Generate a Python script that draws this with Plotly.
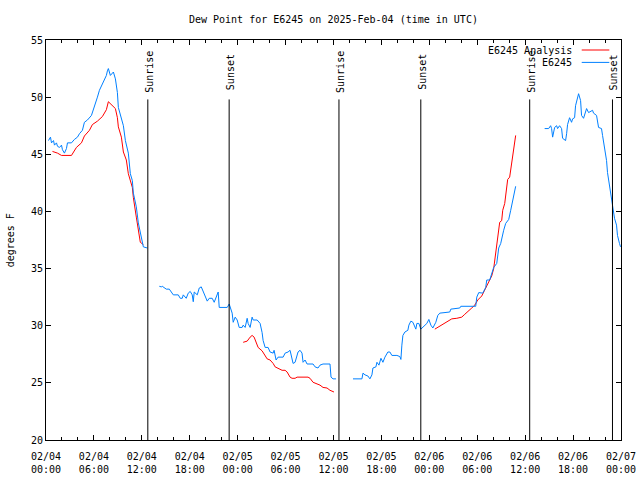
import pandas as pd
import plotly.graph_objects as go

BASE = pd.Timestamp("2025-02-04 00:00")

# ---- Observations (E6245), hours since 2025-02-04 00:00 UTC, segments separated by data gaps
obs_h1 = [0.31, 0.56, 0.69, 0.94, 1.06, 1.31, 1.44, 1.69, 1.94, 2.06, 2.31, 2.56, 2.69, 3.19, 3.56, 3.94,
          4.19, 4.56, 4.81, 5.19, 5.69, 6.06, 6.44, 6.69, 7.06, 7.56, 7.69, 7.81, 8.06, 8.44, 8.69, 8.94,
          9.06, 9.44, 9.69, 9.94, 10.31, 10.56, 10.81, 10.94, 11.31, 11.56, 11.81, 12.06, 12.19, 12.69]
obs_v1 = [46.2, 46.5, 46.0, 46.2, 45.8, 46.0, 45.7, 45.6, 45.8, 45.4, 45.1, 45.5, 46.0, 46.0, 46.3, 46.5,
          46.8, 47.1, 47.8, 48.0, 48.4, 49.1, 50.0, 50.6, 51.2, 51.9, 52.3, 52.5, 51.9, 52.2, 51.6, 50.4,
          49.1, 48.0, 47.5, 46.2, 45.1, 43.3, 42.7, 41.6, 40.4, 39.0, 38.1, 37.5, 36.9, 36.8]

obs_h2 = [14.19, 14.44, 14.56, 14.81, 15.06, 15.44, 15.81, 15.94, 16.56, 16.81, 17.06, 17.19, 17.56, 17.81,
          18.06, 18.31, 18.44, 18.56, 18.94, 19.19, 19.44, 19.69, 19.94, 20.19, 20.44, 20.81, 21.06, 21.31,
          21.56, 21.69, 22.06, 22.69, 22.94, 23.06, 23.31, 23.44, 23.69, 23.94, 24.06, 24.19, 24.56, 24.69,
          24.94, 25.19, 25.31, 25.56, 25.81, 25.94, 26.44, 26.81, 27.06, 27.19, 27.44, 27.81, 28.06, 28.44,
          28.56, 28.81, 29.06, 29.69, 29.94, 30.31, 30.56, 30.81, 30.94, 31.19, 31.44, 31.56, 31.81, 32.06,
          32.19, 32.44, 32.69, 33.44, 33.69, 34.06, 34.31, 34.69, 35.56, 35.69, 35.94, 36.31]
obs_v2 = [33.45, 33.4, 33.45, 33.3, 33.2, 33.2, 32.85, 32.7, 32.7, 32.4, 32.4, 32.7, 32.4, 32.85,
          33.0, 32.7, 32.1, 32.95, 32.7, 33.3, 33.4, 32.95, 32.5, 32.15, 32.4, 32.4, 32.05, 32.5,
          32.95, 31.6, 31.6, 31.6, 31.9, 31.6, 31.1, 30.3, 30.75, 30.5, 30.2, 29.85, 29.85, 30.05,
          29.85, 30.65, 30.2, 29.85, 30.75, 30.5, 30.5, 30.2, 29.4, 28.7, 28.1, 28.1, 27.7, 27.6,
          27.85, 27.0, 27.25, 27.25, 27.6, 27.7, 27.85, 27.0, 26.7, 26.8, 27.4, 27.7, 27.85, 27.6,
          26.8, 27.0, 26.65, 26.65, 26.4, 26.3, 26.55, 26.65, 26.65, 25.5, 25.35, 25.35]

obs_h3 = [38.44, 39.56, 39.69, 39.94, 40.31, 40.56, 40.81, 40.94, 41.31, 41.44, 41.69, 41.94, 42.19, 42.44,
          42.81, 43.06, 43.31, 43.94, 44.31, 44.44, 44.56, 44.69, 44.94, 45.31, 45.44, 45.69, 45.94, 46.06,
          46.31, 46.44, 46.69, 46.94, 47.19, 47.44, 47.69, 47.94, 48.19, 48.44, 48.56, 48.81, 49.06, 49.31,
          50.56, 50.69, 51.81, 51.94, 53.81, 53.94, 54.19, 54.69, 55.06, 55.19, 55.56, 55.81, 55.94, 56.06,
          56.44, 56.56, 56.69, 56.94, 57.19, 57.31, 57.56, 57.81, 57.94, 58.19, 58.31, 58.44, 58.69, 58.81]
obs_v3 = [25.35, 25.35, 25.85, 25.7, 25.6, 25.35, 25.7, 26.3, 26.4, 26.8, 26.55, 27.15, 26.8, 27.25,
          27.7, 27.7, 27.4, 27.4, 27.3, 27.05, 28.3, 29.15, 29.45, 29.6, 30.05, 30.4, 30.3, 30.05,
          29.7, 30.2, 30.2, 29.7, 29.85, 30.05, 30.2, 30.55, 30.05, 29.8, 29.95, 30.3, 30.9, 31.1,
          31.2, 31.45, 31.55, 31.7, 31.7, 32.5, 32.9, 32.85, 33.35, 34.0, 34.0, 34.5, 34.95, 35.1,
          35.45, 36.15, 36.8, 37.2, 38.2, 38.35, 38.95, 39.2, 39.3, 40.1, 40.5, 41.2, 41.8, 42.2]

obs_h4 = [62.44, 62.94, 63.19, 63.31, 63.44, 63.69, 63.94, 64.06, 64.31, 64.56, 64.69, 65.06, 65.19, 65.31,
          65.56, 65.81, 65.94, 66.19, 66.31, 66.44, 66.69, 66.94, 67.06, 67.31, 67.56, 67.69, 67.94, 68.44,
          68.56, 68.94, 69.19, 69.56, 69.69, 69.94, 70.19, 70.31, 70.56, 70.81, 70.94, 71.19, 71.44, 71.56,
          71.81, 71.94]
obs_v4 = [47.25, 47.25, 47.5, 47.25, 46.5, 47.35, 47.5, 47.25, 47.5, 47.25, 46.4, 46.2, 46.8, 47.6,
          48.2, 47.8, 48.1, 48.2, 49.25, 49.7, 50.3, 49.7, 48.4, 48.15, 48.6, 49.0, 48.65, 48.85,
          48.6, 48.4, 47.35, 47.25, 46.65, 45.5, 44.45, 43.4, 42.3, 41.4, 40.55, 39.4, 38.8, 37.9,
          37.2, 36.9]

# ---- Analysis (E6245 Analysis)
ana_h1 = [0.81, 1.44, 1.94, 2.56, 3.19, 3.81, 4.44, 4.81, 5.44, 5.81, 6.44, 7.06, 7.56, 7.81, 8.31, 8.69,
          8.94, 9.06, 9.44, 9.69, 10.06, 10.31, 10.81, 10.94, 11.31, 11.56, 11.81, 12.19]
ana_v1 = [45.25, 45.1, 44.9, 44.9, 44.9, 45.6, 46.0, 46.6, 47.1, 47.6, 47.9, 48.3, 48.9, 49.6, 49.3, 49.0,
          48.2, 47.4, 46.5, 45.2, 44.5, 43.3, 42.1, 41.2, 39.5, 38.3, 37.3, 37.1]

ana_h2 = [24.69, 25.19, 25.56, 25.81, 26.06, 26.31, 26.56, 27.06, 27.44, 27.69, 28.06, 28.44, 28.69, 29.06,
          29.56, 29.94, 30.19, 30.56, 30.81, 31.19, 31.44, 32.81, 33.06, 33.44, 33.94, 34.31, 34.69, 35.19,
          35.56, 35.94, 36.06]
ana_v2 = [28.55, 28.65, 29.0, 29.15, 29.0, 28.55, 28.1, 27.8, 27.4, 27.1, 27.0, 26.7, 26.4, 26.3,
          26.1, 26.1, 25.95, 25.5, 25.4, 25.4, 25.5, 25.5, 25.4, 25.05, 24.9, 24.8, 24.6, 24.55,
          24.35, 24.2, 24.2]

ana_h3 = [48.69, 48.94, 49.31, 49.69, 50.19, 50.81, 51.44, 52.06, 52.44, 52.81, 53.31, 53.69, 54.06, 54.56,
          54.94, 55.31, 55.81, 56.06, 56.19, 56.44, 56.56, 56.81, 57.06, 57.19, 57.44, 57.69, 57.81, 58.06,
          58.31, 58.44, 58.56, 58.81]
ana_v3 = [29.7, 29.8, 29.95, 30.15, 30.3, 30.6, 30.65, 30.75, 31.0, 31.2, 31.55, 31.8, 32.25, 32.6,
          33.1, 33.7, 34.35, 35.0, 35.7, 37.05, 38.1, 39.05, 39.2, 40.1, 40.7, 41.85, 42.8, 43.0,
          44.2, 45.1, 45.8, 46.65]

# ---- Sun events (UTC)
sun_times = ["2025-02-04 12:45", "2025-02-04 22:56", "2025-02-05 12:41",
             "2025-02-05 22:56", "2025-02-06 12:34", "2025-02-06 22:56"]
sun_labels = ["Sunrise", "Sunset", "Sunrise", "Sunset", "Sunrise", "Sunset"]

tick_times = ["2025-02-04 00:00", "2025-02-04 06:00", "2025-02-04 12:00", "2025-02-04 18:00",
              "2025-02-05 00:00", "2025-02-05 06:00", "2025-02-05 12:00", "2025-02-05 18:00",
              "2025-02-06 00:00", "2025-02-06 06:00", "2025-02-06 12:00", "2025-02-06 18:00",
              "2025-02-07 00:00"]
tick_text = ["02/04<br>00:00", "02/04<br>06:00", "02/04<br>12:00", "02/04<br>18:00",
             "02/05<br>00:00", "02/05<br>06:00", "02/05<br>12:00", "02/05<br>18:00",
             "02/06<br>00:00", "02/06<br>06:00", "02/06<br>12:00", "02/06<br>18:00",
             "02/07<br>00:00"]

FONT = "DejaVu Sans Mono"
RED = "#ff0000"
BLUE = "#0080ff"


def join(hs_list, vs_list):
    xs, ys = [], []
    for hs, vs in zip(hs_list, vs_list):
        if xs:
            xs.append(None)
            ys.append(None)
        xs.extend(BASE + pd.to_timedelta(hs, unit="h"))
        ys.extend(vs)
    return xs, ys


ax, ay = join([ana_h1, ana_h2, ana_h3], [ana_v1, ana_v2, ana_v3])
ox, oy = join([obs_h1, obs_h2, obs_h3, obs_h4], [obs_v1, obs_v2, obs_v3, obs_v4])

fig = go.Figure()
fig.add_trace(go.Scatter(x=ax, y=ay, mode="lines", line=dict(color=RED, width=1),
                         name="E6245 Analysis", showlegend=False, connectgaps=False))
fig.add_trace(go.Scatter(x=ox, y=oy, mode="lines", line=dict(color=BLUE, width=1),
                         name="E6245", showlegend=False, connectgaps=False))

for t, lab in zip(sun_times, sun_labels):
    fig.add_shape(type="line", xref="x", yref="y", x0=t, x1=t, y0=20, y1=49.8,
                  line=dict(color="black", width=1))
    fig.add_annotation(x=t, y=52.2, xref="x", yref="y", text=lab, textangle=-90,
                       showarrow=False, xanchor="center", yanchor="middle", xshift=1,
                       font=dict(family=FONT, size=10, color="black"))

# legend (gnuplot style: text on the left, sample on the right)
for name, col, yp in [("E6245 Analysis", RED, 0.975), ("E6245", BLUE, 0.944)]:
    fig.add_annotation(x=0.918, y=yp, xref="paper", yref="paper", text=name, showarrow=False,
                       xanchor="right", yanchor="middle",
                       font=dict(family=FONT, size=10, color="black"))
    fig.add_shape(type="line", xref="paper", yref="paper", x0=0.9317, x1=0.9797, y0=yp, y1=yp,
                  line=dict(color=col, width=1))

fig.add_annotation(x=-0.062, y=0.5, xref="paper", yref="paper", text="degrees F", textangle=-90,
                   showarrow=False, xanchor="center", yanchor="middle",
                   font=dict(family=FONT, size=10, color="black"))

fig.update_layout(
    width=640, height=480,
    margin=dict(l=46, r=19, t=40, b=40),
    paper_bgcolor="white", plot_bgcolor="white",
    title=dict(text="Dew Point for E6245 on 2025-Feb-04 (time in UTC)", x=0.521, y=0.9604,
               xanchor="center", yanchor="middle",
               font=dict(family=FONT, size=10, color="black")),
    font=dict(family=FONT, size=10, color="black"),
    showlegend=False,
    hovermode=False,
)
fig.update_xaxes(type="date", range=["2025-02-04 00:00", "2025-02-07 00:00"],
                 tickvals=tick_times, ticktext=tick_text, ticks="inside", ticklen=5,
                 tickcolor="black", showline=True, linecolor="black", linewidth=1, mirror="ticks",
                 showgrid=False, zeroline=False, ticklabelstandoff=7, automargin=False,
                 minor=dict(dtick=7200000, ticks="inside", ticklen=3, tickcolor="black", showgrid=False),
                 tickfont=dict(family=FONT, size=10, color="black"))
fig.update_yaxes(range=[20, 55], dtick=5, tick0=20, ticks="inside", ticklen=5, tickcolor="black",
                 showline=True, linecolor="black", linewidth=1, mirror="ticks",
                 showgrid=False, zeroline=False, automargin=False,
                 tickfont=dict(family=FONT, size=10, color="black"))

# remove the default 8px page margin so the 640x480 figure fills the window exactly
fig.write_html("out.html", config={"displayModeBar": False},
               post_script="document.body.style.margin='0';document.body.style.overflow='hidden';")
